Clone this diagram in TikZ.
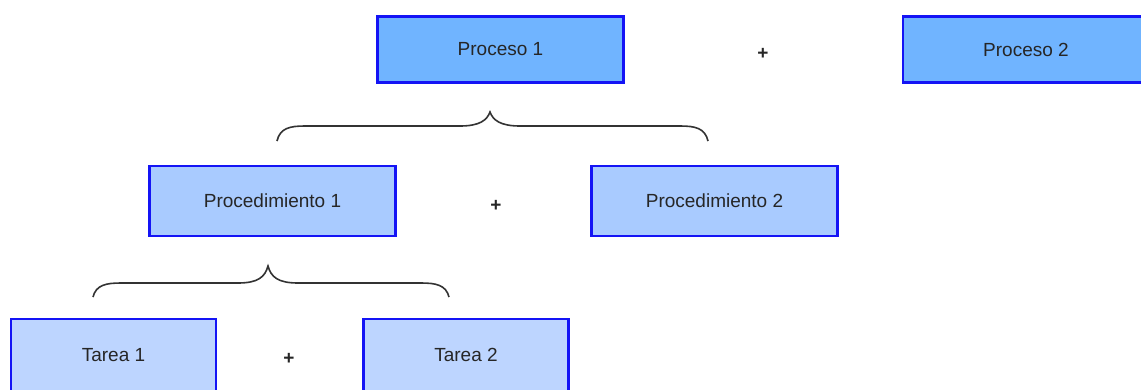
\documentclass[tikz,border=0pt]{standalone}
\usepackage{fontspec}
\setmainfont{Liberation Sans}
\definecolor{bord}{HTML}{1414F5}
\definecolor{fillA}{HTML}{70B4FF}
\definecolor{fillB}{HTML}{A9CBFF}
\definecolor{fillC}{HTML}{BDD5FF}
\definecolor{txt}{HTML}{262626}
\tikzset{
  box/.style={draw=bord, line width=2.6pt, minimum width=246pt, minimum height=66pt, inner sep=0pt, text=txt, font=\fontsize{19}{22}\selectfont},
  proc/.style={box, fill=fillA},
  procd/.style={box, fill=fillB},
  tarea/.style={box, fill=fillC, minimum width=205pt, minimum height=72pt},
  plus/.style={text=black!85, font=\fontsize{19}{22}\selectfont\bfseries, inner sep=0pt},
  brace/.style={draw=black!80, line width=1.6pt}
}
\begin{document}
\begin{tikzpicture}[x=1pt,y=-1pt]
\useasboundingbox (0,0) rectangle (1141,389);
\fill[white] (0,0) rectangle (1141,389);
\clip (0,0) rectangle (1141,389);
\node[proc] (p1) at (500.5,49.5) {Proceso 1};
\node[proc] (p2) at (1026,49.5) {Proceso 2};
\node[plus] (plus1) at (763,54) {+};
\node[procd, minimum height=70pt] (pd1) at (272.5,201) {Procedimiento 1};
\node[procd, minimum height=70pt] (pd2) at (714.5,201) {Procedimiento 2};
\node[plus] (plus2) at (496,206) {+};
\node[tarea] (t1) at (113.5,355) {Tarea 1};
\node[tarea] (t2) at (466,355) {Tarea 2};
\node[plus] (plus3) at (289,359) {+};
% brace 1
\coordinate (b1l) at (277,141);
\coordinate (b1t) at (490,112);
\coordinate (b1r) at (708,141);
\draw[brace] (b1l) .. controls (280,128) and (290,126) .. (305,126)
  -- (460,126) .. controls (480,126) and (487,120) .. (b1t)
  .. controls (493,120) and (500,126) .. (520,126)
  -- (680,126) .. controls (695,126) and (705,128) .. (b1r);
% brace 2
\coordinate (b2l) at (93,297);
\coordinate (b2t) at (268,266);
\coordinate (b2r) at (449,297);
\draw[brace] (b2l) .. controls (96,285) and (106,283) .. (121,283)
  -- (238,283) .. controls (258,283) and (265,277) .. (b2t)
  .. controls (271,277) and (278,283) .. (298,283)
  -- (421,283) .. controls (436,283) and (446,285) .. (b2r);
\end{tikzpicture}
\end{document}
